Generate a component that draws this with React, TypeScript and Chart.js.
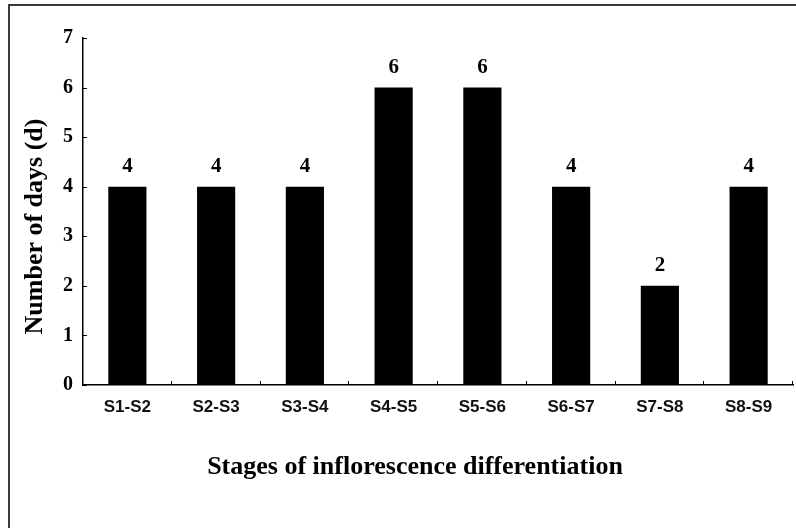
import React, { useEffect, useRef } from "react";
import { Chart, registerables } from "chart.js";

Chart.register(...registerables);

const categories = ["S1-S2", "S2-S3", "S3-S4", "S4-S5", "S5-S6", "S6-S7", "S7-S8", "S8-S9"];
const days = [4, 4, 4, 6, 6, 4, 2, 4];
const yTicks = [0, 1, 2, 3, 4, 5, 6, 7];
const xTitle = "Stages of inflorescence differentiation";
const yTitle = "Number of days (d)";

const SERIF = "'Liberation Serif', 'Times New Roman', serif";
const SANS = "'Liberation Sans Narrow', 'Arial Narrow', 'Liberation Sans', Arial, sans-serif";

const decorPlugin = {
  id: "decor",
  afterDraw(chart: any) {
    const ctx = chart.ctx;
    const area = chart.chartArea;
    const xs = chart.scales.x;
    const ys = chart.scales.y;
    ctx.save();
    ctx.strokeStyle = "#000";
    ctx.lineWidth = 1;
    // inward ticks on y axis
    ys.ticks.forEach((_t: any, i: number) => {
      const py = Math.round(ys.getPixelForTick(i)) + 0.5;
      ctx.beginPath();
      ctx.moveTo(area.left, py);
      ctx.lineTo(area.left + 4, py);
      ctx.stroke();
    });
    // inward ticks on x axis at category boundaries
    for (let i = 1; i <= categories.length; i++) {
      const px = Math.round(xs.getPixelForValue(i - 0.5)) - 0.5;
      ctx.beginPath();
      ctx.moveTo(px, area.bottom);
      ctx.lineTo(px, area.bottom - 4);
      ctx.stroke();
    }
    // value labels
    ctx.fillStyle = "#000";
    ctx.font = `bold 21px ${SERIF}`;
    ctx.textAlign = "center";
    ctx.textBaseline = "middle";
    const meta = chart.getDatasetMeta(0);
    meta.data.forEach((bar: any, i: number) => {
      ctx.fillText(String(days[i]), bar.x, bar.y - 20);
    });
    // axis titles
    ctx.font = `bold 26px ${SERIF}`;
    ctx.fillText(xTitle, (area.left + area.right) / 2 - 23, area.bottom + 82);
    ctx.save();
    ctx.translate(35, (area.top + area.bottom) / 2 + 15);
    ctx.rotate(-Math.PI / 2);
    ctx.fillText(yTitle, 0, 0);
    ctx.restore();
    ctx.restore();
  },
};

export default function App() {
  const ref = useRef<HTMLCanvasElement | null>(null);
  useEffect(() => {
    document.body.style.margin = "0";
    if (!ref.current) return;
    const chart = new Chart(ref.current, {
      type: "bar",
      data: {
        labels: categories,
        datasets: [
          {
            data: days,
            backgroundColor: "#000",
            borderWidth: 0,
            barPercentage: 0.43,
            categoryPercentage: 1,
          },
        ],
      },
      options: {
        animation: false,
        responsive: false,
        devicePixelRatio: 1,
        layout: { padding: { left: 0, right: 3, top: 38, bottom: 0 } },
        plugins: { legend: { display: false }, tooltip: { enabled: false } },
        scales: {
          x: {
            offset: true,
            grid: { display: false, drawTicks: false },
            border: { display: true, color: "#000", width: 1.5 },
            ticks: {
              color: "#111",
              font: { family: SANS, size: 17, weight: "bold" },
              padding: 12,
              maxRotation: 0,
              autoSkip: false,
            },
            afterFit(scale: any) {
              scale.height = 143;
            },
          },
          y: {
            min: 0,
            max: 7,
            afterBuildTicks(scale: any) {
              scale.ticks = yTicks.map((v) => ({ value: v }));
            },
            grid: { display: false, drawTicks: false },
            border: { display: true, color: "#000", width: 1.5 },
            ticks: {
              color: "#000",
              font: { family: SERIF, size: 20, weight: "bold" },
              padding: 10,
            },
            afterFit(scale: any) {
              scale.width = 83;
            },
          },
        },
      },
      plugins: [decorPlugin],
    } as any);
    return () => chart.destroy();
  }, []);
  return (
    <div style={{ position: "relative", width: 796, height: 528, overflow: "hidden", background: "#fff" }}>
      <canvas ref={ref} width={796} height={528} style={{ position: "absolute", left: 0, top: 0 }} />
      <div
        style={{
          position: "absolute",
          left: 8,
          top: 4,
          width: 1000,
          height: 1000,
          borderTop: "2px solid #3a3a3a",
          borderLeft: "2px solid #3a3a3a",
          pointerEvents: "none",
        }}
      />
    </div>
  );
}
